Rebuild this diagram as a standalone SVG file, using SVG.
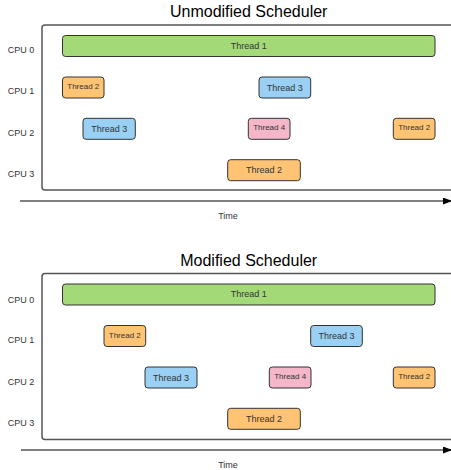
<svg xmlns="http://www.w3.org/2000/svg" width="451" height="470" viewBox="0 0 451 470">
<style>
text{font-family:"Liberation Sans",Arial,sans-serif;fill:#333}
.title{font-size:16px;fill:#000;text-anchor:middle}
.cpu{font-size:9px;fill:#333}
.lbl{text-anchor:middle;font-size:9px}
.sm{font-size:8px}
.box{stroke:#333;stroke-width:1}
.g{fill:#A3D977}.o{fill:#FFC374}.b{fill:#99D0F3}.p{fill:#F4B6C9}
.frame{fill:none;stroke:#555;stroke-width:1.5}
.axis{stroke:#000;stroke-width:1;fill:none}
</style>
<defs>
<marker id="ah" markerWidth="9" markerHeight="7" refX="8" refY="3.5" orient="auto" markerUnits="userSpaceOnUse">
<path d="M0,0 L9,3.5 L0,7 Z" fill="#000"/>
</marker>
</defs>
<g id="top">
<text class="title" x="248.7" y="17">Unmodified Scheduler</text>
<rect class="frame" x="42" y="25" width="430" height="165" rx="3"/>
<g id="cpu-labels-top">
<text class="cpu" x="7.7" y="53">CPU 0</text>
<text class="cpu" x="7.7" y="94">CPU 1</text>
<text class="cpu" x="7.7" y="136">CPU 2</text>
<text class="cpu" x="7.7" y="176.5">CPU 3</text>
</g>
<g id="u-t1"><rect class="box g" x="62.5" y="35.5" width="372.5" height="21" rx="3"/><text class="lbl" x="248.7" y="48.5">Thread 1</text></g>
<g id="u-t2a"><rect class="box o" x="62.5" y="77" width="41.5" height="21" rx="3"/><text class="lbl sm" x="83.3" y="89">Thread 2</text></g>
<g id="u-t3a"><rect class="box b" x="259" y="77" width="51.7" height="21" rx="3"/><text class="lbl" x="284.8" y="90.5">Thread 3</text></g>
<g id="u-t3b"><rect class="box b" x="83" y="118.3" width="52.3" height="21" rx="3"/><text class="lbl" x="109.2" y="131.8">Thread 3</text></g>
<g id="u-t4"><rect class="box p" x="248.3" y="118.3" width="41.7" height="21" rx="3"/><text class="lbl sm" x="269.2" y="130.3">Thread 4</text></g>
<g id="u-t2b"><rect class="box o" x="393.3" y="118.3" width="41.7" height="21" rx="3"/><text class="lbl sm" x="414.2" y="130.3">Thread 2</text></g>
<g id="u-t2c"><rect class="box o" x="227.7" y="159.7" width="72.6" height="21" rx="3"/><text class="lbl" x="264" y="173">Thread 2</text></g>
</g>
<g id="connectors">
<line class="axis" x1="20" y1="201" x2="451" y2="201" marker-end="url(#ah)"/>
<line class="axis" x1="21" y1="450" x2="451" y2="450" marker-end="url(#ah)"/>
</g>
<text class="lbl" x="228" y="219">Time</text>
<g id="bottom">
<text class="title" x="248.7" y="266">Modified Scheduler</text>
<rect class="frame" x="42" y="273.5" width="430" height="166" rx="3"/>
<g id="cpu-labels-bottom">
<text class="cpu" x="7.7" y="302.5">CPU 0</text>
<text class="cpu" x="7.7" y="342.5">CPU 1</text>
<text class="cpu" x="7.7" y="385">CPU 2</text>
<text class="cpu" x="7.7" y="425.5">CPU 3</text>
</g>
<g id="m-t1"><rect class="box g" x="62.5" y="284" width="372.5" height="21" rx="3"/><text class="lbl" x="248.7" y="297">Thread 1</text></g>
<g id="m-t2a"><rect class="box o" x="104" y="325.5" width="41.7" height="21" rx="3"/><text class="lbl sm" x="124.8" y="337.5">Thread 2</text></g>
<g id="m-t3a"><rect class="box b" x="310.7" y="325.5" width="51.6" height="21" rx="3"/><text class="lbl" x="336.5" y="339">Thread 3</text></g>
<g id="m-t3b"><rect class="box b" x="145" y="367" width="52" height="21" rx="3"/><text class="lbl" x="171" y="380.5">Thread 3</text></g>
<g id="m-t4"><rect class="box p" x="269.3" y="367" width="41.7" height="21" rx="3"/><text class="lbl sm" x="290.2" y="379">Thread 4</text></g>
<g id="m-t2b"><rect class="box o" x="393.3" y="367" width="41.7" height="21" rx="3"/><text class="lbl sm" x="414.2" y="379">Thread 2</text></g>
<g id="m-t2c"><rect class="box o" x="227.7" y="408.3" width="72.6" height="21" rx="3"/><text class="lbl" x="264" y="421.5">Thread 2</text></g>
</g>
<text class="lbl" x="228" y="467.5">Time</text>
</svg>
